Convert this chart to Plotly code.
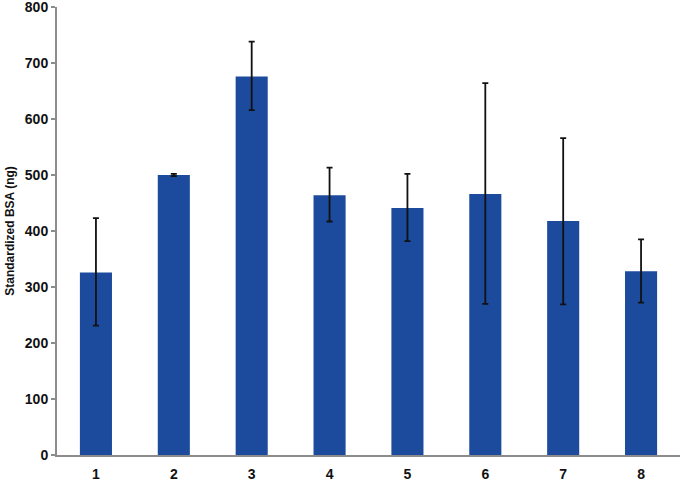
import plotly.graph_objects as go

categories = [1, 2, 3, 4, 5, 6, 7, 8]
values = [326, 500, 676, 464, 441, 466, 418, 328]
err_plus = [97, 2, 62, 49, 61, 198, 148, 57]
err_minus = [95, 2, 60, 47, 59, 196, 149, 56]
tick_vals = [0, 100, 200, 300, 400, 500, 600, 700, 800]

FONT = "Liberation Sans, Arial, sans-serif"

fig = go.Figure(go.Bar(
    x=categories, y=values,
    marker=dict(color="#1C4A9C", line=dict(width=0)),
    error_y=dict(type="data", symmetric=False, array=err_plus, arrayminus=err_minus,
                 color="#111111", thickness=1.8, width=3),
))

fig.update_layout(
    width=683, height=483,
    margin=dict(l=57, r=3, t=7, b=28, autoexpand=False),
    paper_bgcolor="white", plot_bgcolor="white",
    bargap=0.588,
    showlegend=False,
    font=dict(family=FONT, color="#111111"),
)
fig.update_xaxes(
    range=[0.5, 8.5], tickmode="array", tickvals=categories,
    ticktext=[str(c) for c in categories],
    showline=True, linecolor="#8c8c8c", linewidth=2,
    ticks="outside", ticklen=5, tickcolor="rgba(0,0,0,0)",
    showgrid=False, zeroline=False, automargin=False,
    tickfont=dict(size=14, family=FONT, weight="bold"),
)
fig.update_yaxes(
    range=[0, 800], tickmode="array", tickvals=tick_vals,
    showline=True, linecolor="#8c8c8c", linewidth=2,
    ticks="outside", ticklen=4, tickcolor="#8c8c8c", tickwidth=1.5,
    showgrid=False, zeroline=False, automargin=False,
    ticklabeloverflow="allow",
    tickfont=dict(size=14, family=FONT, weight="bold"),
    title=dict(text="Standardized BSA (ng)", standoff=8,
               font=dict(size=12, family=FONT, weight="bold")),
)

fig.write_html(
    "out.html",
    config={"displayModeBar": False},
    post_script="document.body.style.margin='0';document.body.style.overflow='hidden';",
)
